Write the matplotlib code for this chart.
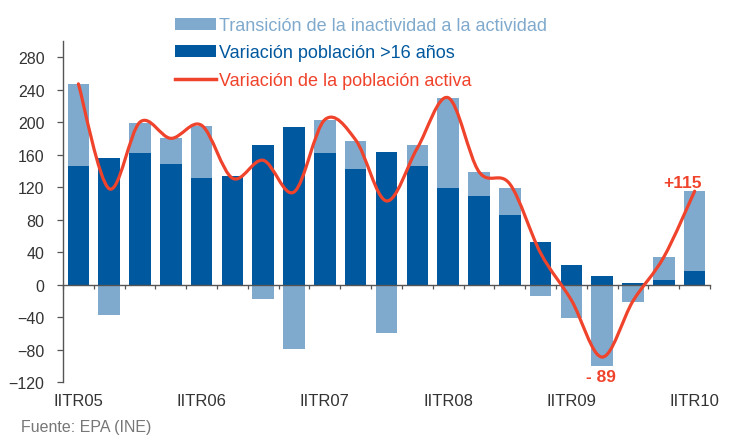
import numpy as np
import matplotlib
matplotlib.use("Agg")
import matplotlib.pyplot as plt
from matplotlib.path import Path
from matplotlib.patches import PathPatch, Patch
from matplotlib.lines import Line2D

plt.rcParams['font.family'] = ['Liberation Sans', 'DejaVu Sans']

# ---- data (miles de personas) ----
quarters = ["IITR05", "IIITR05", "IVTR05", "ITR06", "IITR06", "IIITR06", "IVTR06",
            "ITR07", "IITR07", "IIITR07", "IVTR07", "ITR08", "IITR08", "IIITR08",
            "IVTR08", "ITR09", "IITR09", "IIITR09", "IVTR09", "ITR10", "IITR10"]
var_pob16 = [146, 156, 162, 148, 131, 134, 172, 194, 162, 142, 163,
             146, 119, 109, 86, 53, 24, 11, 2, 6, 17]
transicion = [101, -37, 37, 33, 64, -2, -18, -79, 41, 35, -60,
              26, 111, 29, 33, -14, -41, -100, -21, 28, 98]
var_activa = [247, 118, 200, 180, 196, 131, 153, 114, 203, 178, 103,
              168, 230, 139, 124, 39, -19, -89, -20, 34, 115]
shown_labels = {"IITR05", "IITR06", "IITR07", "IITR08", "IITR09", "IITR10"}
yticks = list(range(-120, 281, 40))

DARK = "#00589E"
LIGHT = "#80AACD"
RED = "#F0432C"

fig = plt.figure(figsize=(7.40, 4.39), dpi=100)
ax = fig.add_axes([0.0851, 0.1269, 0.8744, 0.778])

x = np.arange(len(quarters))
dark = np.array(var_pob16, dtype=float)
light = np.array(transicion, dtype=float)
width = 0.7

ax.bar(x, dark, width=width, color=DARK, zorder=2)
ax.bar(x, light, width=width, bottom=np.where(light > 0, dark, 0), color=LIGHT, zorder=2)

# smooth line (Catmull-Rom converted to cubic Bezier segments)
y = np.array(var_activa, dtype=float)
pts = np.column_stack([x, y])
verts = [tuple(pts[0])]
codes = [Path.MOVETO]
n = len(pts)
for i in range(n - 1):
    p0 = pts[i - 1] if i > 0 else pts[i]
    p1 = pts[i]
    p2 = pts[i + 1]
    p3 = pts[i + 2] if i + 2 < n else pts[i + 1]
    c1 = p1 + (p2 - p0) / 6.0
    c2 = p2 - (p3 - p1) / 6.0
    verts += [tuple(c1), tuple(c2), tuple(p2)]
    codes += [Path.CURVE4] * 3
ax.add_patch(PathPatch(Path(verts, codes), fill=False, edgecolor=RED, lw=2.3,
                       zorder=3, capstyle='round', joinstyle='round'))

# annotations
ax.text(x[-1] - 0.4, y[-1] + 2, "+115", color=RED, fontsize=12.5, fontweight='bold',
        ha='center', va='bottom')
imin = int(np.argmin(y))
ax.text(x[imin] - 0.05, y[imin] - 15, "- 89", color=RED, fontsize=12.5, fontweight='bold',
        ha='center', va='top')

# axes styling
ax.set_xlim(-0.5, len(quarters) - 0.5)
ax.set_ylim(-120, 300)
for s in ['top', 'right']:
    ax.spines[s].set_visible(False)
ax.spines['left'].set_color('#555555')
ax.spines['bottom'].set_position(('data', 0))
ax.spines['bottom'].set_color('#555555')
ax.spines['left'].set_linewidth(1.0)
ax.spines['bottom'].set_linewidth(1.0)
ax.set_yticks(yticks)
ax.tick_params(axis='y', length=4.3, width=0.9, color='#555555', labelsize=11.5,
               labelcolor='#333333', pad=9)
ax.set_xticks(np.arange(-0.5, len(quarters), 1.0))
ax.tick_params(axis='x', length=3, width=0.9, color='#555555', labelbottom=False)

sec = ax.secondary_xaxis('bottom')
pos = [i for i, q in enumerate(quarters) if q in shown_labels]
sec.set_xticks(pos, [quarters[i] for i in pos])
sec.tick_params(length=0, labelsize=12, labelcolor='#333333', pad=8)
sec.spines['bottom'].set_visible(False)

# legend
handles = [Patch(facecolor=LIGHT, edgecolor='none'),
           Patch(facecolor=DARK, edgecolor='none'),
           Line2D([], [], color=RED, lw=2.5)]
labels = ["Transición de la inactividad a la actividad",
          "Variación población >16 años",
          "Variación de la población activa"]
leg = fig.legend(handles, labels, loc='upper left', bbox_to_anchor=(0.2365, 0.959),
                 frameon=False, fontsize=13, handlelength=2.27, handleheight=0.66,
                 handletextpad=0.17, labelspacing=0.58, borderaxespad=0, borderpad=0)
for t, c in zip(leg.get_texts(), [LIGHT, DARK, RED]):
    t.set_color(c)

fig.text(0.028, 0.027, "Fuente: EPA (INE)", color='#777777', fontsize=11.5,
         ha='left', va='center')

fig.savefig("out.png", dpi=100)
